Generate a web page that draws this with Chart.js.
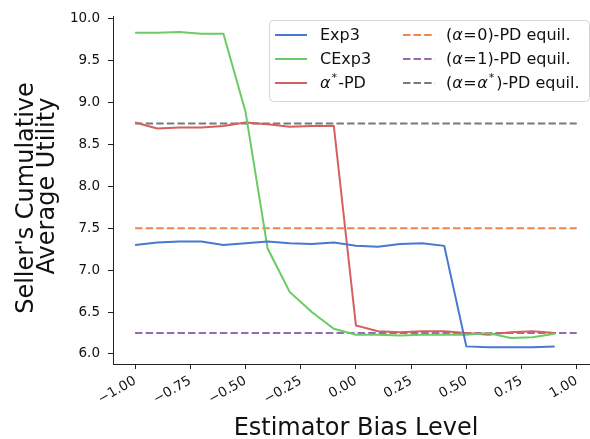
<!DOCTYPE html>
<html>
<head>
<meta charset="utf-8">
<script src="https://cdn.jsdelivr.net/npm/chart.js@4.4.1/dist/chart.umd.min.js"></script>
<style>
    html, body { margin: 0; padding: 0; background: #fff; }
</style>
</head>
<body>
<canvas id="chart" width="590" height="439"></canvas>
<script>
// bias levels on the x axis
const biasLevels = [-1.0, -0.9, -0.8, -0.7, -0.6, -0.5, -0.4, -0.3, -0.2, -0.1,
                    0.0, 0.1, 0.2, 0.3, 0.4, 0.5, 0.6, 0.7, 0.8, 0.9];
const exp3 = [7.30, 7.33, 7.34, 7.34, 7.30, 7.32, 7.34, 7.32, 7.31, 7.33,
              7.29, 7.28, 7.31, 7.32, 7.29, 6.09, 6.08, 6.08, 6.08, 6.09];
const cexp3 = [9.83, 9.83, 9.84, 9.82, 9.82, 8.89, 7.26, 6.74, 6.50, 6.30,
               6.23, 6.23, 6.22, 6.23, 6.23, 6.23, 6.25, 6.19, 6.20, 6.24];
const alphaStarPD = [8.76, 8.69, 8.70, 8.70, 8.72, 8.76, 8.74, 8.71, 8.72, 8.72,
                     6.34, 6.27, 6.26, 6.27, 6.27, 6.25, 6.23, 6.26, 6.27, 6.25];
// equilibrium levels, drawn across the whole bias range
const equilRange = [-1.0, 1.0];
const equilAlpha0 = 7.5;
const equilAlpha1 = 6.25;
const equilAlphaStar = 8.75;

const xTicks = [-1.0, -0.75, -0.5, -0.25, 0.0, 0.25, 0.5, 0.75, 1.0];
const yTicks = [6.0, 6.5, 7.0, 7.5, 8.0, 8.5, 9.0, 9.5, 10.0];

const colors = {
    blue: '#4878d0', orange: '#ee854a', green: '#6acc64',
    red: '#d65f5f', purple: '#956cb4', gray: '#797979'
};

const FONT = "'DejaVu Sans', sans-serif";
const minus = s => s.replace('-', '\u2212');

function series(ys) {
    return biasLevels.map((x, i) => ({ x: x, y: ys[i] }));
}
function flat(v) {
    return equilRange.map(x => ({ x: x, y: v }));
}

function solid(data, color) {
    return { data: data, borderColor: color, borderWidth: 2, pointRadius: 0, tension: 0, fill: false };
}
function dashed(data, color) {
    return { data: data, borderColor: color, borderWidth: 2, borderDash: [7.4, 3.2], pointRadius: 0, fill: false };
}

// draws a run of text pieces, some italic or superscript; pre/gap = extra space around
function drawRich(ctx, parts, x, y, size) {
    parts.forEach(p => {
        const sz = p.sup ? size * 0.7 : size;
        ctx.font = (p.italic ? 'italic ' : '') + sz + 'px ' + FONT;
        x += p.pre || 0;
        ctx.fillText(p.t, x, p.sup ? y - size * 0.38 : y);
        x += ctx.measureText(p.t).width + (p.gap || 0);
    });
}

const legendItems = [
    { col: 0, row: 0, color: colors.blue, dash: false, parts: [{ t: 'Exp3' }] },
    { col: 0, row: 1, color: colors.green, dash: false, parts: [{ t: 'CExp3' }] },
    { col: 0, row: 2, color: colors.red, dash: false,
      parts: [{ t: 'α', italic: true }, { t: '*', sup: true, pre: 1, gap: 1 }, { t: '-PD' }] },
    { col: 1, row: 0, color: colors.orange, dash: true,
      parts: [{ t: '(' }, { t: 'α', italic: true }, { t: '=', pre: 0.5, gap: 0.5 }, { t: '0)-PD equil.' }] },
    { col: 1, row: 1, color: colors.purple, dash: true,
      parts: [{ t: '(' }, { t: 'α', italic: true }, { t: '=', pre: 0.5, gap: 0.5 }, { t: '1)-PD equil.' }] },
    { col: 1, row: 2, color: colors.gray, dash: true,
      parts: [{ t: '(' }, { t: 'α', italic: true }, { t: '=', pre: 0.5, gap: 0.5 }, { t: 'α', italic: true },
              { t: '*', sup: true, pre: 1, gap: 2 }, { t: ')-PD equil.' }] }
];

const extras = {
    id: 'extras',
    afterDraw(chart) {
        const ctx = chart.ctx;
        ctx.save();
        // legend box
        const bx = 269, by = 20, bw = 320, bh = 81, r = 4;
        ctx.beginPath();
        ctx.roundRect(bx + 0.5, by + 0.5, bw, bh, r);
        ctx.fillStyle = 'rgba(255,255,255,0.8)';
        ctx.fill();
        ctx.strokeStyle = '#d6d6d6';
        ctx.lineWidth = 1;
        ctx.stroke();

        const lineX = [275, 403], textX = [320, 446], rowY = [35, 59, 83];
        ctx.textBaseline = 'middle';
        ctx.textAlign = 'left';
        legendItems.forEach(it => {
            const y = rowY[it.row];
            ctx.beginPath();
            ctx.setLineDash(it.dash ? [7.4, 3.2] : []);
            ctx.strokeStyle = it.color;
            ctx.lineWidth = 2;
            ctx.moveTo(lineX[it.col], y);
            ctx.lineTo(lineX[it.col] + 32, y);
            ctx.stroke();
            ctx.setLineDash([]);
            ctx.fillStyle = '#111';
            drawRich(ctx, it.parts, textX[it.col], y + 1, 16);
        });

        // axis titles
        ctx.fillStyle = '#111';
        ctx.font = '24px ' + FONT;
        ctx.textAlign = 'center';
        ctx.textBaseline = 'alphabetic';
        ctx.fillText('Estimator Bias Level', 356, 435);

        ctx.save();
        ctx.translate(33, 198);
        ctx.rotate(-Math.PI / 2);
        ctx.fillText("Seller's Cumulative", 0, 0);
        ctx.restore();
        ctx.save();
        ctx.translate(54, 186);
        ctx.rotate(-Math.PI / 2);
        ctx.fillText('Average Utility', 0, 0);
        ctx.restore();
        ctx.restore();
    }
};

new Chart(document.getElementById('chart'), {
    type: 'line',
    data: {
        datasets: [
            solid(series(exp3), colors.blue),
            solid(series(cexp3), colors.green),
            solid(series(alphaStarPD), colors.red),
            dashed(flat(equilAlpha0), colors.orange),
            dashed(flat(equilAlpha1), colors.purple),
            dashed(flat(equilAlphaStar), colors.gray)
        ]
    },
    plugins: [extras],
    options: {
        responsive: false,
        animation: false,
        devicePixelRatio: 1,
        layout: { padding: { top: 13, right: 0, left: 0, bottom: 0 } },
        plugins: {
            legend: { display: false },
            tooltip: { enabled: false }
        },
        scales: {
            x: {
                type: 'linear',
                min: -1.1,
                max: 1.06,
                afterBuildTicks: (scale) => { scale.ticks = xTicks.map(v => ({ value: v })); },
                afterFit: (scale) => { scale.height = 75; },
                grid: { drawOnChartArea: false, drawTicks: true, tickLength: 5, color: '#222', lineWidth: 1 },
                border: { display: true, color: '#222', width: 1 },
                ticks: {
                    minRotation: 30,
                    maxRotation: 30,
                    padding: 4,
                    color: '#111',
                    font: { family: FONT, size: 13.5 },
                    callback: (v) => minus(Number(v).toFixed(2))
                }
            },
            y: {
                type: 'linear',
                min: 5.88,
                max: 10.03,
                afterBuildTicks: (scale) => { scale.ticks = yTicks.map(v => ({ value: v })); },
                afterFit: (scale) => { scale.width = 113; },
                grid: { drawOnChartArea: false, drawTicks: true, tickLength: 5, color: '#222', lineWidth: 1 },
                border: { display: true, color: '#222', width: 1 },
                ticks: {
                    padding: 8,
                    color: '#111',
                    font: { family: FONT, size: 13.5 },
                    callback: (v) => Number(v).toFixed(1)
                }
            }
        }
    }
});
</script>
</body>
</html>
